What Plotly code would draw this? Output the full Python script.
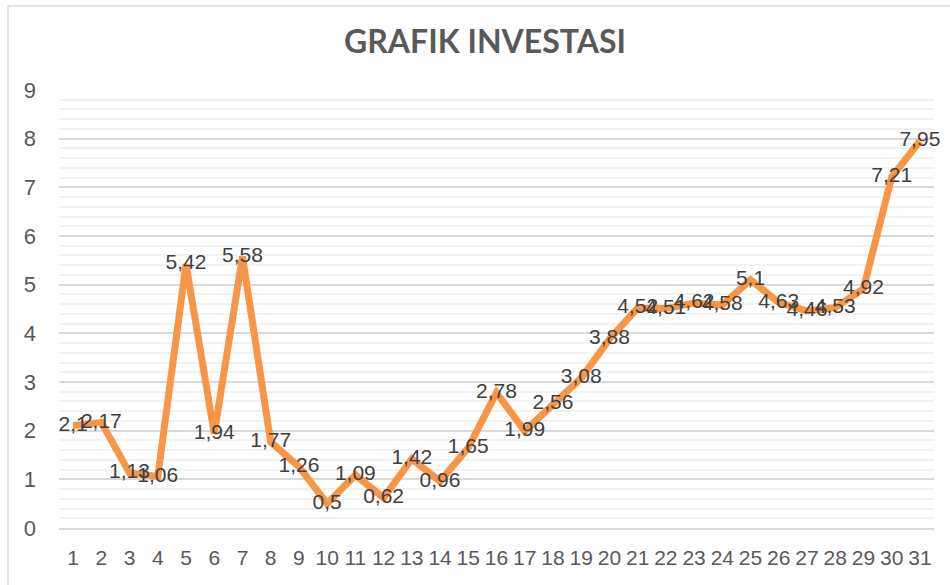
import plotly.graph_objects as go

categories = [str(i) for i in range(1, 32)]
values = [2.1, 2.17, 1.13, 1.06, 5.42, 1.94, 5.58, 1.77, 1.26, 0.5,
          1.09, 0.62, 1.42, 0.96, 1.65, 2.78, 1.99, 2.56, 3.08, 3.88,
          4.52, 4.51, 4.62, 4.58, 5.1, 4.63, 4.46, 4.53, 4.92, 7.21, 7.95]
labels = [("%g" % v).replace(".", ",") for v in values]
y_ticks = list(range(0, 10))

W, H = 950, 585
L, R, T, B = 59, 16, 90, 57
pw, ph = W - L - R, H - T - B

fig = go.Figure()
fig.add_trace(go.Scatter(
    x=categories, y=values, mode="lines+text",
    line=dict(color="#F79646", width=7),
    text=labels, textposition="middle center",
    textfont=dict(family="Liberation Sans, Arial, sans-serif", size=21, color="#404040"),
    cliponaxis=False, hoverinfo="skip"))

fig.update_layout(
    width=W, height=H,
    margin=dict(l=L, r=R, t=T, b=B),
    paper_bgcolor="white", plot_bgcolor="white",
    showlegend=False,
    title=dict(text="<b>GRAFIK INVESTASI</b>", x=485 / W, xanchor="center",
               y=1 - 42 / H, yanchor="middle",
               font=dict(family="Lato, Open Sans, sans-serif", size=32, color="#595959")),
    xaxis=dict(type="category", range=[-0.5, 30.5], showgrid=False, showline=True,
               linecolor="#D9D9D9", linewidth=1.5, ticks="", ticklabelstandoff=10,
               tickfont=dict(family="Liberation Sans, sans-serif", size=21, color="#595959")),
    yaxis=dict(range=[0, 9], tickvals=y_ticks, showgrid=True, gridcolor="#D9D9D9",
               gridwidth=1.5, zeroline=False, showline=False, ticks="",
               ticklabelstandoff=22,
               tickfont=dict(family="Liberation Sans, sans-serif", size=22, color="#595959")),
    shapes=[dict(type="rect", xref="paper", yref="paper",
                 x0=(8 - L) / pw, x1=(W + 20 - L) / pw,
                 y0=-(H + 20 - T - ph) / ph, y1=1 + (T - 6) / ph,
                 line=dict(color="#D9D9D9", width=1.5), fillcolor="rgba(0,0,0,0)", layer="below")],
)
fig.update_yaxes(minor=dict(dtick=0.2, showgrid=True, gridcolor="#F2F2F2", gridwidth=1.5))

fig.write_html("out.html", config={"displayModeBar": False},
               post_script="document.body.style.margin='0';document.body.style.overflow='hidden';")
